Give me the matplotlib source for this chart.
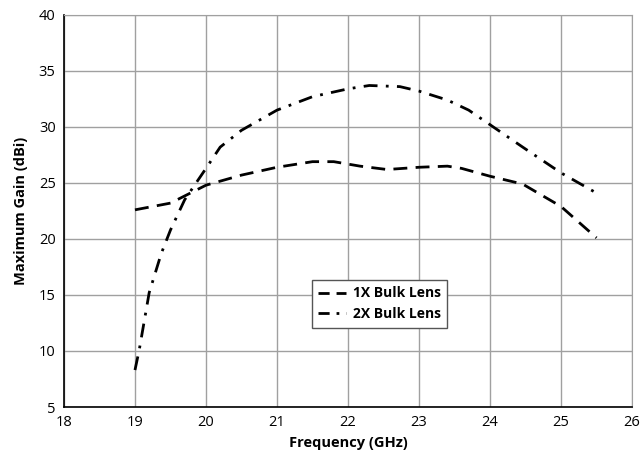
import matplotlib.pyplot as plt

freq_1x = [19.0, 19.5, 20.0, 20.5, 21.0, 21.5, 21.8, 22.17, 22.55, 23.0, 23.4, 23.6, 24.0, 24.46, 25.0, 25.5]
gain_1x = [22.6, 23.2, 24.8, 25.7, 26.4, 26.9, 26.9, 26.5, 26.2, 26.4, 26.5, 26.3, 25.6, 24.9, 22.9, 20.1]

freq_2x = [19.0, 19.06, 19.2, 19.37, 19.5, 19.7, 20.0, 20.2, 20.5, 21.0, 21.5, 22.0, 22.3, 22.73, 23.0,
           23.4, 23.7, 24.0, 24.46, 25.0, 25.5]
gain_2x = [8.3, 10.1, 15.2, 18.7, 20.8, 23.5, 26.3, 28.2, 29.7, 31.5, 32.7, 33.4, 33.7, 33.6, 33.2,
           32.4, 31.5, 30.2, 28.2, 25.9, 24.1]

plt.rcParams['font.family'] = ['Open Sans', 'DejaVu Sans']

fig = plt.figure(figsize=(6.41, 4.66), dpi=100)
ax = fig.add_axes([0.0998, 0.1266, 0.8862, 0.8414])

ax.plot(freq_1x, gain_1x, color="black", lw=2.0, linestyle=(0, (5, 3)), label="1X Bulk Lens")
ax.plot(freq_2x, gain_2x, color="black", lw=2.0, linestyle=(0, (5, 3, 1, 3)), label="2X Bulk Lens")

ax.set_xlim(18, 26)
ax.set_ylim(5, 40)
ax.set_xticks(range(18, 27))
ax.set_yticks(range(5, 41, 5))
ax.grid(True, color="#a0a0a0", lw=1)
ax.set_axisbelow(True)
ax.tick_params(length=0, labelsize=10.5, pad=6)
for s in ["top", "right"]:
    ax.spines[s].set_color("#a0a0a0")
for s in ["left", "bottom"]:
    ax.spines[s].set_color("black")
    ax.spines[s].set_linewidth(1.2)

ax.set_xlabel("Frequency (GHz)", fontsize=10.5, fontweight="bold", labelpad=4)
ax.set_ylabel("Maximum Gain (dBi)", fontsize=10.5, fontweight="bold", labelpad=8)

leg = ax.legend(loc="center", bbox_to_anchor=(0.556, 0.263), fancybox=False, framealpha=1,
                edgecolor="#555555", prop={"weight": "bold", "size": 10}, handlelength=2.0,
                handletextpad=0.5, borderpad=0.45, labelspacing=0.5)
leg.get_frame().set_linewidth(1)
for h in leg.get_lines():
    h.set_linestyle((0, (4, 2.5)) if h.get_label() == "1X Bulk Lens" else (0, (4, 2.5, 1, 2.5)))

plt.savefig("out.png")
